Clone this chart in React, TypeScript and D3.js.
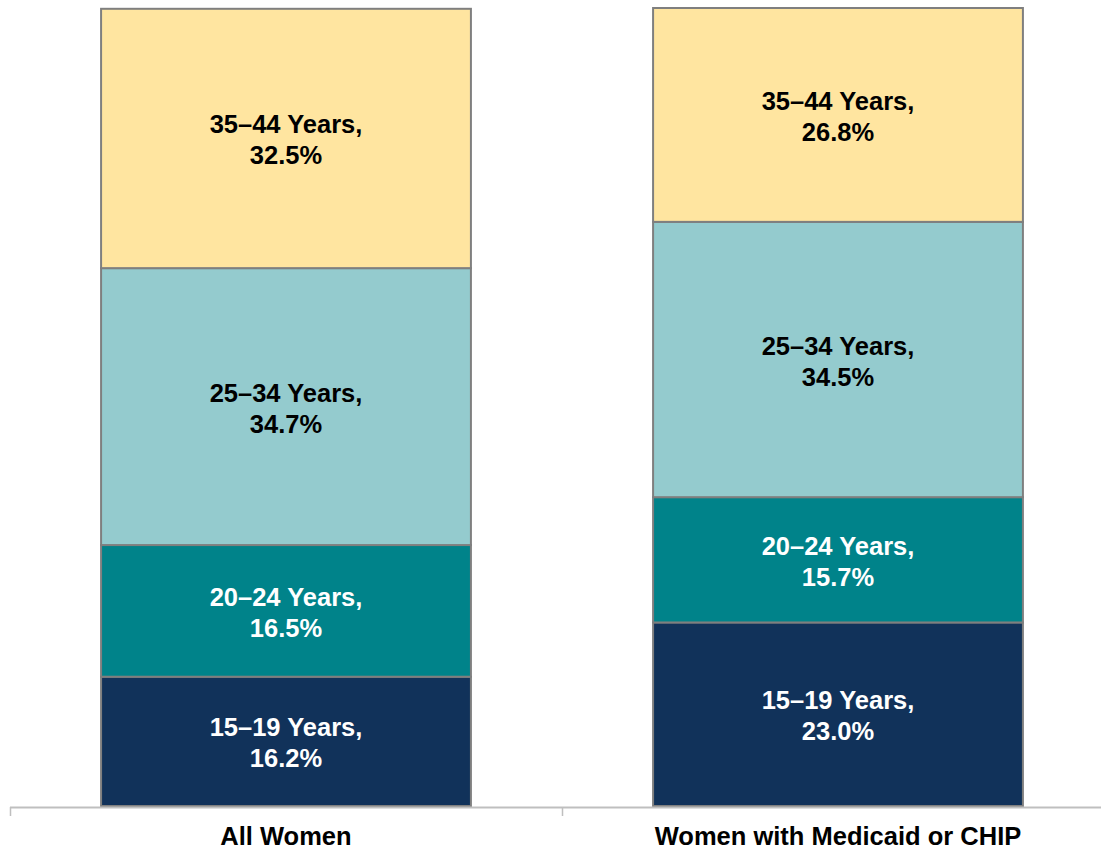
import React, { useRef, useEffect } from 'react';
import * as d3 from 'd3';

// groups on the x axis
const groups = ['All Women', 'Women with Medicaid or CHIP'];
// age bands, bottom to top
const ageBands = ['15–19 Years', '20–24 Years', '25–34 Years', '35–44 Years'];
// share of each age band, per group (%)
const allWomen = [16.2, 16.5, 34.7, 32.5];
const medicaidChip = [23.0, 15.7, 34.5, 26.8];

const bandColors = ['#11325A', '#00838A', '#94CBCE', '#FFE5A0'];
const textColors = ['#ffffff', '#ffffff', '#000000', '#000000'];

const W = 1101;
const H = 852;

const App = () => {
  const ref = useRef<SVGSVGElement>(null);

  useEffect(() => {
    const svg = d3.select(ref.current);
    svg.selectAll('*').remove();

    const bottom = 806;
    const top = 8;

    // x 比例尺：两个类别
    const x = d3.scaleBand().domain(groups).range([10, 1114]).paddingInner(0.33).paddingOuter(0.165);
    const y = d3.scaleLinear().domain([0, 100]).range([bottom, top]);

    const series = [allWomen, medicaidChip];

    groups.forEach((g, gi) => {
      const vals = series[gi];
      let acc = 0;
      vals.forEach((v, i) => {
        const y0 = acc;
        const y1 = acc + v;
        acc = y1;
        const gEl = svg.append('g');
        gEl.append('rect')
          .attr('x', x(g)!)
          .attr('y', y(y1))
          .attr('width', x.bandwidth())
          .attr('height', y(y0) - y(y1))
          .attr('fill', bandColors[i])
          .attr('stroke', '#7F7F7F')
          .attr('stroke-width', 2);
        const cx = x(g)! + x.bandwidth() / 2;
        const cy = (y(y0) + y(y1)) / 2;
        const t = gEl.append('text')
          .attr('x', cx)
          .attr('text-anchor', 'middle')
          .attr('font-family', 'Liberation Sans, Arial, sans-serif')
          .attr('font-weight', 'bold')
          .attr('font-size', 25.5)
          .attr('fill', textColors[i]);
        t.append('tspan').attr('x', cx).attr('y', cy - 5).text(`${ageBands[i]},`);
        t.append('tspan').attr('x', cx).attr('y', cy + 26).text(`${v.toFixed(1)}%`);
      });
    });

    // 坐标轴
    const axis = svg.append('g');
    axis.append('line')
      .attr('x1', 10).attr('x2', W)
      .attr('y1', 807.5).attr('y2', 807.5)
      .attr('stroke', '#BFBFBF').attr('stroke-width', 2);
    [10, 562].forEach(tx => {
      axis.append('line')
        .attr('x1', tx + 0.5).attr('x2', tx + 0.5)
        .attr('y1', 807).attr('y2', 816)
        .attr('stroke', '#BFBFBF').attr('stroke-width', 1.5);
    });
    axis.selectAll('text.cat')
      .data(groups)
      .enter()
      .append('text')
      .attr('class', 'cat')
      .attr('x', d => x(d)! + x.bandwidth() / 2)
      .attr('y', 845)
      .attr('text-anchor', 'middle')
      .attr('font-family', 'Liberation Sans, Arial, sans-serif')
      .attr('font-weight', 'bold')
      .attr('font-size', 25.5)
      .attr('fill', '#000')
      .text(d => d);
  }, []);

  return (
    <svg
      ref={ref}
      width={W}
      height={H}
      style={{ position: 'absolute', left: 0, top: 0, background: '#fff' }}
    />
  );
};

export default App;
